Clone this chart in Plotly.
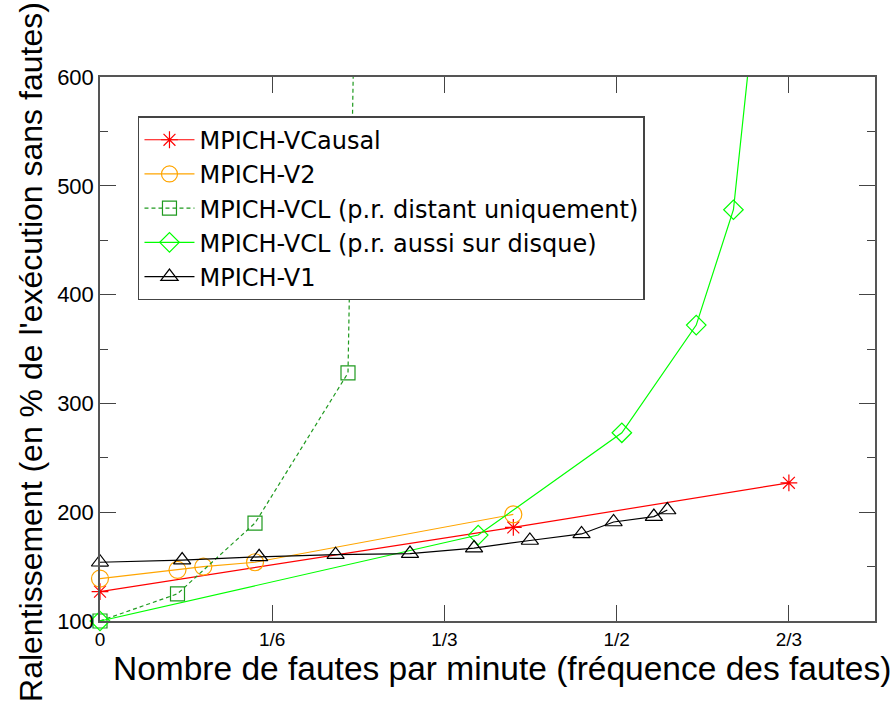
import plotly.graph_objects as go

# Data
x_vcausal = [0.0, 0.40, 2/3]
y_vcausal = [127, 186, 227]

x_v2 = [0.0, 0.075, 0.10, 0.15, 0.40]
y_v2 = [139, 147, 150, 154, 198]

x_vcl_dist = [0.0, 0.075, 0.15, 0.24, 0.25]
y_vcl_dist = [100, 125, 190, 328, 870]

x_vcl_disk = [0.0, 0.366, 0.505, 0.577, 0.613, 0.65]
y_vcl_disk = [100, 179, 273, 372, 478, 810]

x_v1 = [0.0, 0.0795, 0.154, 0.228, 0.300, 0.362, 0.416, 0.466, 0.497, 0.536, 0.549]
y_v1 = [154, 156, 159, 161, 162, 167, 174, 180, 191, 196, 202]

x_tickvals = [0, 1/6, 1/3, 1/2, 2/3]
x_ticktext = ["0", "1/6", "1/3", "1/2", "2/3"]

x_title = "Nombre de fautes par minute (fréquence des fautes)"
y_title = "Ralentissement (en % de l'exécution sans fautes)"

series = [
    ("MPICH-VCausal", x_vcausal, y_vcausal, "#ff0000", "asterisk-open", 14, "solid"),
    ("MPICH-V2", x_v2, y_v2, "#ffa500", "circle-open", 17, "solid"),
    ("MPICH-VCL (p.r. distant uniquement)", x_vcl_dist, y_vcl_dist, "#1f9a1f", "square-open", 14, "dash"),
    ("MPICH-VCL (p.r. aussi sur disque)", x_vcl_disk, y_vcl_disk, "#00ff00", "diamond-open", 15, "solid"),
    ("MPICH-V1", x_v1, y_v1, "#000000", "triangle-up-open", 15, "solid"),
]

fig = go.Figure()
for name, xs, ys, color, sym, size, dash in series:
    fig.add_trace(go.Scatter(
        x=xs, y=ys, name=name, mode="lines+markers",
        line=dict(color=color, width=1.2, dash="4px,3px" if dash == "dash" else "solid"),
        marker=dict(symbol=sym, size=size, color=color, line=dict(width=1.2, color=color)),
        cliponaxis=False,
    ))

axis_font = dict(family="Liberation Sans, Arial, sans-serif", color="#000000")

fig.update_layout(
    width=895, height=702,
    margin=dict(l=100, r=20, t=77, b=81),
    paper_bgcolor="white", plot_bgcolor="white",
    showlegend=True,
    legend=dict(
        x=0.049, y=0.928, xanchor="left", yanchor="top",
        bgcolor="white", bordercolor="#444444", borderwidth=1.5,
        font=dict(family="DejaVu Sans", size=24, color="#000000"),
        itemwidth=50, tracegroupgap=0,
    ),
    xaxis=dict(
        range=[0, 0.75], tickvals=x_tickvals, ticktext=x_ticktext,
        ticks="inside", ticklen=16, tickwidth=1.2, tickcolor="#444444",
        showline=True, linecolor="#555555", linewidth=1.5, mirror="ticks",
        showgrid=False, zeroline=False, automargin=False,
        tickfont=dict(size=19, **axis_font),
    ),
    yaxis=dict(
        range=[100, 600], dtick=100, tick0=100,
        ticks="inside", ticklen=16, tickwidth=1.2, tickcolor="#444444",
        minor=dict(dtick=50, ticks="inside", ticklen=8, tickwidth=1.2, tickcolor="#444444", showgrid=False),
        showline=True, linecolor="#555555", linewidth=1.5, mirror="ticks",
        showgrid=False, zeroline=False, automargin=False,
        tickfont=dict(size=22, **axis_font),
    ),
    annotations=[
        dict(text=x_title, xref="paper", yref="paper", x=0.519, y=-0.088,
             xanchor="center", yanchor="middle", showarrow=False,
             font=dict(size=33.5, **axis_font)),
        dict(text=y_title, xref="paper", yref="paper", x=-0.09, y=0.495,
             xanchor="center", yanchor="middle", showarrow=False, textangle=-90,
             font=dict(size=32, **axis_font)),
    ],
)

fig.write_html("out.html", config={"displayModeBar": False},
               post_script="document.body.style.margin='0';")
